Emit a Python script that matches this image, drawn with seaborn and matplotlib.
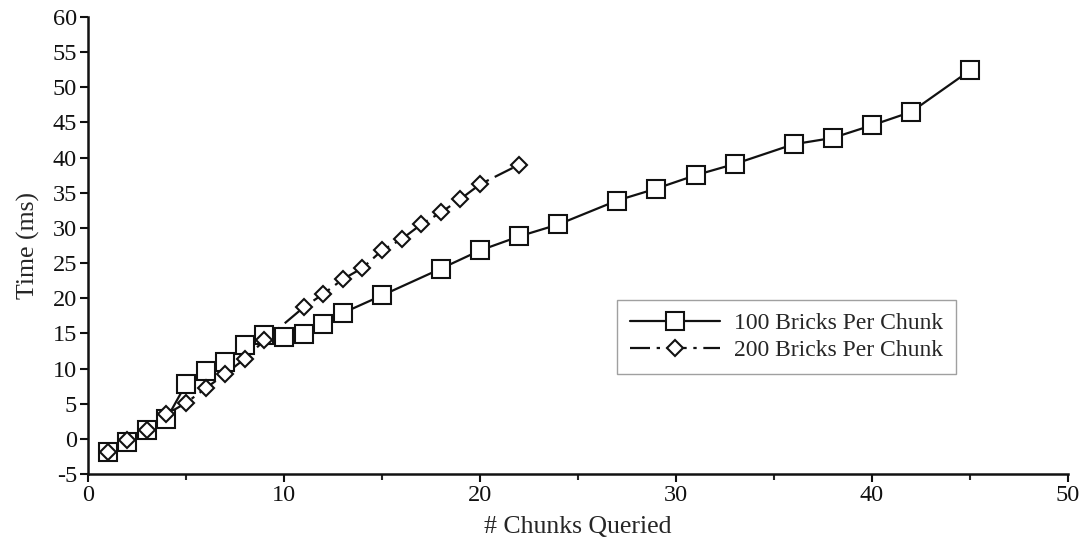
import matplotlib
matplotlib.use("Agg")
import matplotlib.pyplot as plt
import seaborn as sns
import pandas as pd
from matplotlib.ticker import MultipleLocator
from matplotlib.lines import Line2D

# Data
x_100 = [1, 2, 3, 4, 5, 6, 7, 8, 9, 10, 11, 12, 13, 15, 18, 20, 22, 24, 27, 29, 31, 33, 36, 38, 40, 42, 45]
y_100 = [-1.9, -0.4, 1.2, 2.8, 7.8, 9.7, 11.0, 13.3, 14.8, 14.5, 14.9, 16.4, 17.9, 20.4, 24.2, 26.8, 28.8, 30.5, 33.9, 35.6, 37.5, 39.1, 41.9, 42.8, 44.6, 46.5, 52.4]

x_200 = [1, 2, 3, 4, 5, 6, 7, 8, 9, 11, 12, 13, 14, 15, 16, 17, 18, 19, 20, 22]
y_200 = [-1.9, -0.1, 1.2, 3.5, 5.1, 7.2, 9.2, 11.4, 14.0, 18.7, 20.6, 22.7, 24.3, 26.8, 28.4, 30.5, 32.2, 34.1, 36.2, 39.0]

series_names = ["100 Bricks Per Chunk", "200 Bricks Per Chunk"]
x_label = "# Chunks Queried"
y_label = "Time (ms)"

df = pd.concat([
    pd.DataFrame({"x": x_100, "y": y_100, "series": series_names[0]}),
    pd.DataFrame({"x": x_200, "y": y_200, "series": series_names[1]}),
], ignore_index=True)

sns.set_theme(style="ticks")
plt.rcParams["font.family"] = ["Liberation Serif", "DejaVu Serif"]
plt.rcParams["axes.unicode_minus"] = False

DASH = (9, 3, 1.5, 3)

fig = plt.figure(figsize=(10.86, 5.44), dpi=100)
ax = fig.add_axes([88 / 1086, 1 - 474 / 544, (1068 - 88) / 1086, (474 - 17) / 544])

sns.lineplot(
    data=df, x="x", y="y", hue="series", style="series",
    palette={series_names[0]: "#111111", series_names[1]: "#111111"},
    markers=False,
    dashes={series_names[0]: "", series_names[1]: DASH},
    ax=ax, legend=False, linewidth=1.6, sort=False,
)

ax.plot(x_100, y_100, linestyle="none", marker="s", markersize=13.5,
        markerfacecolor="white", markeredgecolor="#111111", markeredgewidth=1.5,
        zorder=3)
ax.plot(x_200, y_200, linestyle="none", marker="D", markersize=8.5,
        markerfacecolor="white", markeredgecolor="#111111", markeredgewidth=1.5,
        zorder=4)

handles = [
    Line2D([], [], color="#111111", linewidth=1.6, marker="s", markersize=13.5,
           markerfacecolor="white", markeredgecolor="#111111", markeredgewidth=1.5),
    Line2D([], [], color="#111111", linewidth=1.6, dashes=DASH, marker="D", markersize=8.5,
           markerfacecolor="white", markeredgecolor="#111111", markeredgewidth=1.5),
]
leg = ax.legend(handles, series_names, loc="upper left", bbox_to_anchor=(0.54, 0.381),
                frameon=True, fancybox=False, shadow=False, fontsize=17,
                handlelength=3.8, borderpad=0.55, labelspacing=0.22, handletextpad=0.6,
                borderaxespad=0)
leg.get_frame().set_edgecolor("#888888")
leg.get_frame().set_linewidth(1.0)

ax.set_xlim(0, 50)
ax.set_ylim(-5, 60)
ax.xaxis.set_major_locator(MultipleLocator(10))
ax.xaxis.set_minor_locator(MultipleLocator(5))
ax.yaxis.set_major_locator(MultipleLocator(5))
ax.tick_params(axis="both", which="major", direction="out", length=6, width=1.5,
               labelsize=17.5, colors="#111111", pad=2)
ax.tick_params(axis="x", which="minor", direction="out", length=4, width=1.5)
for s in ["top", "right"]:
    ax.spines[s].set_visible(False)
for s in ["left", "bottom"]:
    ax.spines[s].set_linewidth(1.8)
    ax.spines[s].set_color("#111111")

ax.set_xlabel(x_label, fontsize=18.5, labelpad=7)
ax.set_ylabel(y_label, fontsize=18.5, labelpad=9)

fig.savefig("out.png", dpi=100, facecolor="white")
